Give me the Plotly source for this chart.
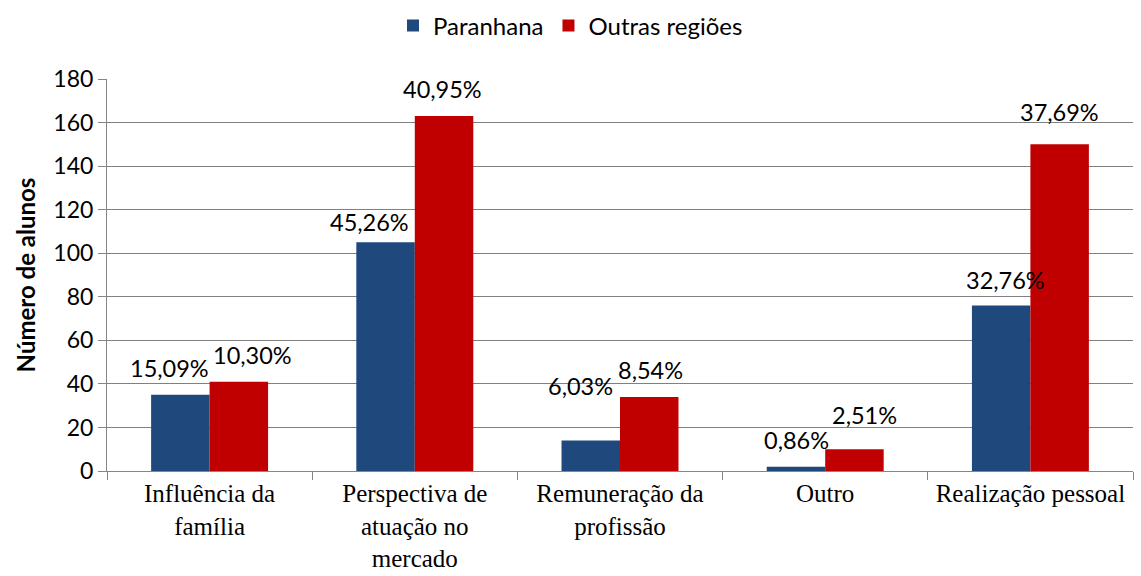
import plotly.graph_objects as go

categories = ["Influência da<br>família", "Perspectiva de<br>atuação no<br>mercado",
              "Remuneração da<br>profissão", "Outro", "Realização pessoal"]
paranhana = [35, 105, 14, 2, 76]
outras = [41, 163, 34, 10, 150]
paranhana_labels = ["15,09%", "45,26%", "6,03%", "0,86%", "32,76%"]
outras_labels = ["10,30%", "40,95%", "8,54%", "2,51%", "37,69%"]

# label offsets in pixels relative to bar top / category centre (styling)
p_shift = [27, 20, 55, 27, 25]
o_shift = [27, 27, 27, 34, 32]
p_xshift = [-40, -45, -40, -29, -25]
o_xshift = [43, 28, 30, 39, 29]

BLUE = "#1F497D"
RED = "#C00000"
SANS = "Lato, Carlito, Calibri, sans-serif"
SERIF = "Liberation Serif, Times New Roman, serif"

fig = go.Figure()
fig.add_trace(go.Bar(name="Paranhana", x=categories, y=paranhana, marker_color=BLUE,
                     marker_line_width=0, offsetgroup="p"))
fig.add_trace(go.Bar(name="Outras regiões", x=categories, y=outras, marker_color=RED,
                     marker_line_width=0, offsetgroup="o"))

annotations = []
for i, c in enumerate(categories):
    annotations.append(dict(x=c, y=paranhana[i], xref="x", yref="y", text=paranhana_labels[i],
                            showarrow=False, xshift=p_xshift[i], yshift=p_shift[i], yanchor="middle",
                            font=dict(family=SANS, size=23.5, color="#000")))
    annotations.append(dict(x=c, y=outras[i], xref="x", yref="y", text=outras_labels[i],
                            showarrow=False, xshift=o_xshift[i], yshift=o_shift[i], yanchor="middle",
                            font=dict(family=SANS, size=23.5, color="#000")))

fig.update_layout(
    width=1141, height=576,
    margin=dict(l=107, r=8, t=79, b=105, autoexpand=False),
    paper_bgcolor="white", plot_bgcolor="white",
    barmode="group", bargap=0.43, bargroupgap=0,
    showlegend=True,
    legend=dict(orientation="h", xref="container", x=0.5, xanchor="center",
                yref="container", y=0.955, yanchor="middle",
                font=dict(family=SANS, size=24, color="#000"),
                itemwidth=30, traceorder="normal"),
    annotations=annotations,
    xaxis=dict(showline=True, linecolor="#868686", linewidth=1, tickangle=0,
               ticks="outside", ticklen=8, tickcolor="#868686", tickson="boundaries",
               tickfont=dict(family=SERIF, size=25, color="#000")),
    yaxis=dict(range=[0, 180], dtick=20, showline=True, linecolor="#868686", linewidth=1,
               ticks="outside", ticklen=8, tickcolor="#868686",
               showgrid=True, gridcolor="#808080", gridwidth=1,
               tickfont=dict(family=SANS, size=23, color="#000"),
               title=dict(text="<b>Número de alunos</b>", font=dict(family=SANS, size=24, color="#000"),
                          standoff=10)),
)

fig.write_html("out.html", config={"displayModeBar": False},
               post_script="document.body.style.margin='0';")
